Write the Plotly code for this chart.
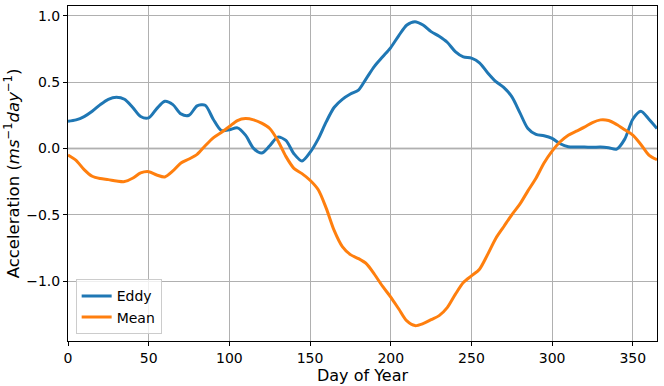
import plotly.graph_objects as go

# day of year sample points (every 5 days)
days = list(range(0, 366, 5))

eddy = [0.205, 0.215, 0.24, 0.28, 0.33, 0.37, 0.385, 0.37, 0.31, 0.24,
        0.23, 0.30, 0.355, 0.33, 0.26, 0.25, 0.32, 0.325, 0.22, 0.135,
        0.14, 0.155, 0.10, 0.0, -0.035, 0.02, 0.085, 0.06, -0.04, -0.095,
        -0.03, 0.07, 0.20, 0.31, 0.37, 0.41, 0.44, 0.53, 0.62, 0.69,
        0.76, 0.85, 0.93, 0.955, 0.93, 0.88, 0.845, 0.80, 0.73, 0.69,
        0.68, 0.645, 0.57, 0.505, 0.46, 0.39, 0.27, 0.15, 0.105, 0.095,
        0.075, 0.035, 0.012, 0.01, 0.01, 0.008, 0.01, 0.005, -0.005, 0.07,
        0.22, 0.28, 0.22, 0.15]

mean = [-0.05, -0.09, -0.16, -0.21, -0.227, -0.235, -0.245, -0.25, -0.225, -0.185,
        -0.175, -0.20, -0.215, -0.17, -0.11, -0.08, -0.045, 0.02, 0.08, 0.12,
        0.165, 0.21, 0.225, 0.215, 0.19, 0.15, 0.06, -0.06, -0.15, -0.19,
        -0.24, -0.31, -0.45, -0.62, -0.74, -0.80, -0.83, -0.87, -0.95, -1.04,
        -1.12, -1.21, -1.30, -1.335, -1.32, -1.29, -1.26, -1.20, -1.10, -1.01,
        -0.96, -0.91, -0.80, -0.68, -0.59, -0.50, -0.42, -0.32, -0.225, -0.11,
        -0.02, 0.05, 0.10, 0.13, 0.16, 0.195, 0.215, 0.21, 0.18, 0.14,
        0.10, 0.03, -0.05, -0.085]

x_ticks = [0, 50, 100, 150, 200, 250, 300, 350]
y_ticks = [-1.0, -0.5, 0.0, 0.5, 1.0]

fig = go.Figure()

fig.add_trace(go.Scatter(x=days, y=eddy, name="Eddy", mode="lines",
                         line=dict(color="#1f77b4", width=3, shape="spline", smoothing=0.8)))
fig.add_trace(go.Scatter(x=days, y=mean, name="Mean", mode="lines",
                         line=dict(color="#ff7f0e", width=3, shape="spline", smoothing=0.8)))

# zero line
fig.add_hline(y=0, line=dict(color="#808080", width=1.5), layer="below")

axis_common = dict(
    showline=True, linecolor="black", linewidth=1, mirror=True,
    ticks="outside", ticklen=4, tickcolor="black",
    showgrid=True, gridcolor="#b0b0b0", gridwidth=1,
    zeroline=False,
    tickfont=dict(size=14, color="black"),
)

fig.update_xaxes(range=[0, 365], tickvals=x_ticks,
                 title=dict(text="Day of Year", font=dict(size=16, color="black"), standoff=2),
                 **axis_common)
fig.update_yaxes(range=[-1.451, 1.073], tickvals=y_ticks, tickformat=".1f",
                 title=dict(text="Acceleration (<i>ms</i><sup>−1</sup><i>day</i><sup>−1</sup>)",
                            font=dict(size=16.5, color="black"), standoff=2),
                 **axis_common)

fig.update_layout(
    width=664, height=386,
    margin=dict(l=68, r=7, t=6, b=45),
    paper_bgcolor="white", plot_bgcolor="white",
    font=dict(family="DejaVu Sans", color="black"),
    showlegend=True,
    legend=dict(x=0.013, y=0.02, xanchor="left", yanchor="bottom",
                bgcolor="rgba(255,255,255,0.8)", bordercolor="#cccccc", borderwidth=1,
                font=dict(size=14, color="black"), tracegroupgap=0),
)

# page body has a default margin; drop it so the figure sits at the window corner
fig.write_html("out.html", config={"displayModeBar": False},
               post_script="document.body.style.margin='0';")
